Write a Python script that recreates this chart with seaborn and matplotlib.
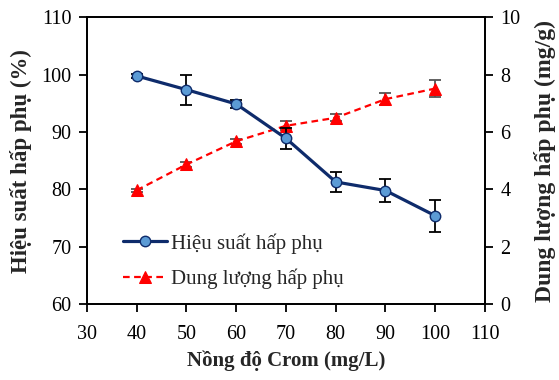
import matplotlib
matplotlib.use("Agg")
import matplotlib.pyplot as plt
import seaborn as sns
import pandas as pd

conc = [40, 50, 60, 70, 80, 90, 100]
efficiency = [99.8, 97.4, 94.9, 88.9, 81.3, 79.8, 75.4]
efficiency_err = [0.3, 2.6, 0.7, 1.8, 1.7, 2.0, 2.8]
capacity = [3.97, 4.87, 5.68, 6.22, 6.50, 7.15, 7.52]
capacity_err = [0.05, 0.08, 0.08, 0.15, 0.12, 0.2, 0.3]

label_eff = "Hiệu suất hấp phụ"
label_cap = "Dung lượng hấp phụ"
xlabel = "Nồng độ Crom (mg/L)"
ylabel_left = "Hiệu suất hấp phụ (%)"
ylabel_right = "Dung lượng hấp phụ (mg/g)"

sns.set_style("white")
plt.rcParams['font.family'] = ['Liberation Serif', 'DejaVu Serif']
plt.rcParams['mathtext.fontset'] = 'stix'

df = pd.DataFrame({"conc": conc, "eff": efficiency, "cap": capacity})

fig = plt.figure(figsize=(5.59, 3.80), dpi=100)
ax = fig.add_axes([0.1556, 0.2, 0.712, 0.754])
ax2 = ax.twinx()

navy = "#0E2B6B"
ax.errorbar(conc, efficiency, yerr=efficiency_err, fmt='none', ecolor='black',
            elinewidth=1.3, capsize=4, capthick=1.3, zorder=2)
sns.lineplot(data=df, x="conc", y="eff", ax=ax, color=navy, lw=2.3,
             marker='o', markersize=7.5, markerfacecolor="#5B9BD5",
             markeredgecolor=navy, markeredgewidth=1.0, label=label_eff,
             legend=False, zorder=3)

ax2.errorbar(conc, capacity, yerr=capacity_err, fmt='none', ecolor='#555555',
             elinewidth=1.3, capsize=4, capthick=1.3, zorder=2)
sns.lineplot(data=df, x="conc", y="cap", ax=ax2, color="#FF0000", lw=1.6,
             linestyle=(0, (3, 2)), marker='^', markersize=8,
             markerfacecolor="#FF0000", markeredgecolor="#FF0000",
             label=label_cap, legend=False, zorder=3)

ax.set_xlim(30, 110)
ax.set_ylim(60, 110)
ax2.set_ylim(0, 10)
ax.set_xticks(range(30, 111, 10))
ax.set_yticks(range(60, 111, 10))
ax2.set_yticks(range(0, 11, 2))

for a in (ax, ax2):
    for s in a.spines.values():
        s.set_color('black')
        s.set_linewidth(1.3)
    a.tick_params(direction='out', length=6, width=1.3, colors='black',
                  labelsize=14.5, pad=5)
ax.tick_params(axis='x', bottom=True, pad=9)
ax.tick_params(axis='y', left=True)
ax2.tick_params(axis='y', right=True)

ax.set_xlabel(xlabel, fontsize=15, fontweight='bold', labelpad=5)
ax.set_ylabel(ylabel_left, fontsize=16.5, fontweight='bold', labelpad=7)
ax2.set_ylabel(ylabel_right, fontsize=17, fontweight='bold', labelpad=10)

h1, l1 = ax.get_legend_handles_labels()
h2, l2 = ax2.get_legend_handles_labels()
leg = ax.legend(h1 + h2, l1 + l2, loc='center left', bbox_to_anchor=(0.09, 0.15),
                frameon=False, fontsize=15, handlelength=2.1, handletextpad=0.2,
                labelspacing=0.7, borderaxespad=0, borderpad=0)
leg.set_zorder(5)
ax.set_zorder(ax2.get_zorder() + 1)
ax.patch.set_visible(False)

fig.savefig("out.png", dpi=100)
